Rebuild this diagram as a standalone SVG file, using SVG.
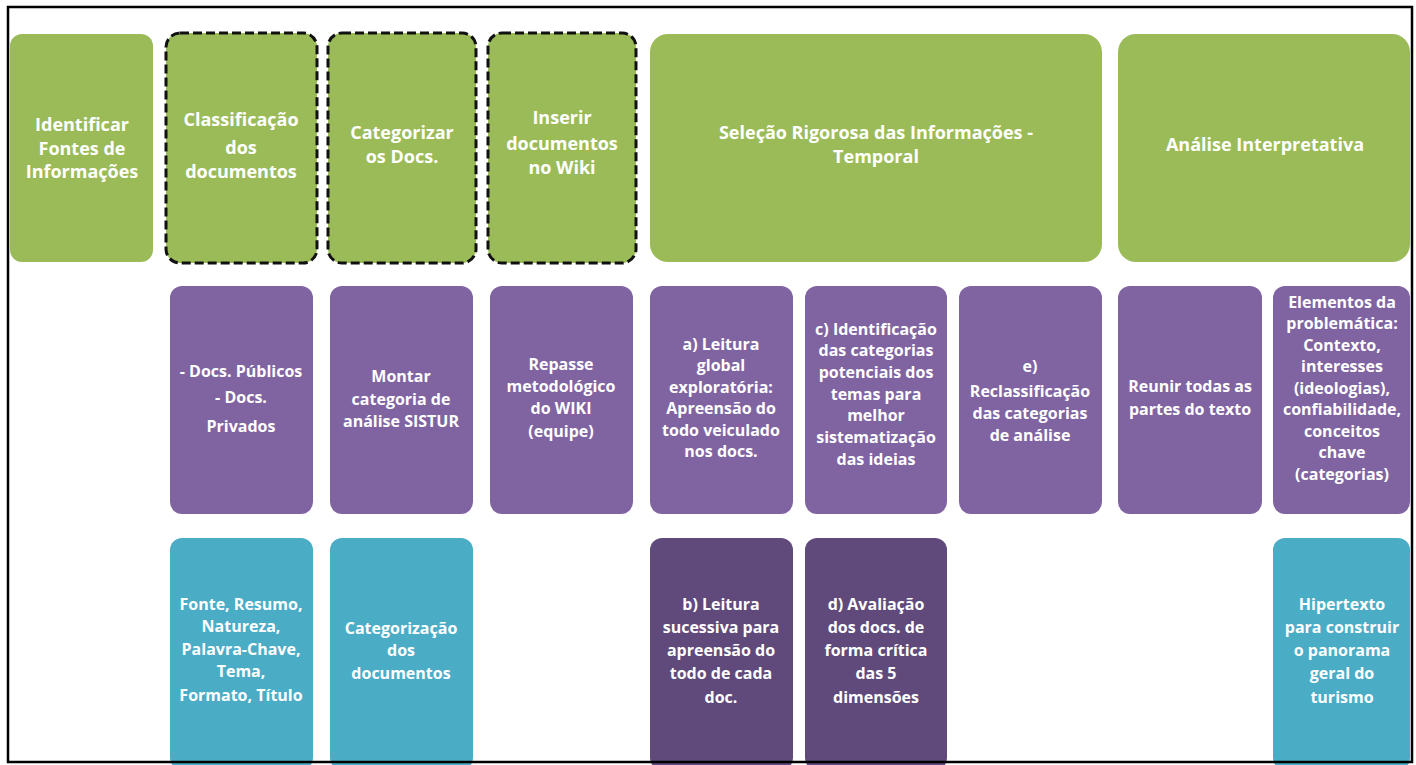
<svg xmlns="http://www.w3.org/2000/svg" width="1416" height="765" viewBox="0 0 1416 765">
<style>
.g{fill:#9bbb59}
.p{fill:#8064a2}
.dp{fill:#5f4a7b}
.t{fill:#4bacc6}
.dash{fill:none;stroke:#111;stroke-width:3;stroke-dasharray:9 4}
text{font-family:"Open Sans",Lato,"Liberation Sans",sans-serif;font-weight:bold;fill:#fff;text-anchor:middle}
.h{font-size:18px}
.s{font-size:16px}
</style>
<rect width="1416" height="765" fill="#fff"/>
<g id="n-identificar"><rect class="g" x="10" y="34" width="143" height="228" rx="12"/>
<text class="h"><tspan x="82" y="131">Identificar</tspan><tspan x="82" y="155">Fontes de</tspan><tspan x="82" y="178">Informações</tspan></text></g>
<g id="n-classificacao"><rect class="g" x="166" y="33" width="151" height="230" rx="14"/><rect class="dash" x="166" y="33" width="151" height="230" rx="14"/>
<text class="h"><tspan x="241" y="126">Classificação</tspan><tspan x="241" y="154">dos</tspan><tspan x="241" y="178">documentos</tspan></text></g>
<g id="n-categorizar"><rect class="g" x="328" y="33" width="148" height="230" rx="14"/><rect class="dash" x="328" y="33" width="148" height="230" rx="14"/>
<text class="h"><tspan x="402" y="139">Categorizar</tspan><tspan x="402" y="163">os Docs.</tspan></text></g>
<g id="n-inserir"><rect class="g" x="488" y="33" width="148" height="230" rx="14"/><rect class="dash" x="488" y="33" width="148" height="230" rx="14"/>
<text class="h"><tspan x="562" y="124">Inserir</tspan><tspan x="562" y="150">documentos</tspan><tspan x="562" y="174">no Wiki</tspan></text></g>
<g id="n-selecao"><rect class="g" x="650" y="34" width="452" height="228" rx="18"/>
<text class="h"><tspan x="876" y="139">Seleção Rigorosa das Informações -</tspan><tspan x="876" y="163">Temporal</tspan></text></g>
<g id="n-analise"><rect class="g" x="1118" y="34" width="292" height="228" rx="18"/>
<text class="h"><tspan x="1265" y="151">Análise Interpretativa</tspan></text></g>

<g id="n-docs"><rect class="p" x="170" y="286" width="143" height="228" rx="12"/>
<text class="s"><tspan x="241" y="377">- Docs. Públicos</tspan><tspan x="241" y="403">- Docs.</tspan><tspan x="241" y="432">Privados</tspan></text></g>
<g id="n-montar"><rect class="p" x="330" y="286" width="143" height="228" rx="12"/>
<text class="s"><tspan x="401" y="382">Montar</tspan><tspan x="401" y="405">categoria de</tspan><tspan x="401" y="427">análise SISTUR</tspan></text></g>
<g id="n-repasse"><rect class="p" x="490" y="286" width="143" height="228" rx="12"/>
<text class="s"><tspan x="561" y="370">Repasse</tspan><tspan x="561" y="392">metodológico</tspan><tspan x="561" y="414">do WIKI</tspan><tspan x="561" y="437">(equipe)</tspan></text></g>
<g id="n-a"><rect class="p" x="650" y="286" width="143" height="228" rx="12"/>
<text class="s"><tspan x="721" y="350">a) Leitura</tspan><tspan x="721" y="371">global</tspan><tspan x="721" y="393">exploratória:</tspan><tspan x="721" y="414">Apreensão do</tspan><tspan x="721" y="436">todo veiculado</tspan><tspan x="721" y="457">nos docs.</tspan></text></g>
<g id="n-c"><rect class="p" x="805" y="286" width="142" height="228" rx="12"/>
<text class="s"><tspan x="876" y="335">c) Identificação</tspan><tspan x="876" y="356">das categorias</tspan><tspan x="876" y="378">potenciais dos</tspan><tspan x="876" y="400">temas para</tspan><tspan x="876" y="421">melhor</tspan><tspan x="876" y="443">sistematização</tspan><tspan x="876" y="465">das ideias</tspan></text></g>
<g id="n-e"><rect class="p" x="959" y="286" width="143" height="228" rx="12"/>
<text class="s"><tspan x="1030" y="372">e)</tspan><tspan x="1030" y="397">Reclassificação</tspan><tspan x="1030" y="419">das categorias</tspan><tspan x="1030" y="441">de análise</tspan></text></g>
<g id="n-reunir"><rect class="p" x="1118" y="286" width="144" height="228" rx="12"/>
<text class="s"><tspan x="1190" y="392">Reunir todas as</tspan><tspan x="1190" y="415">partes do texto</tspan></text></g>
<g id="n-elementos"><rect class="p" x="1273" y="286" width="137" height="228" rx="12"/>
<text class="s"><tspan x="1342" y="308">Elementos da</tspan><tspan x="1342" y="329">problemática:</tspan><tspan x="1342" y="351">Contexto,</tspan><tspan x="1342" y="372">interesses</tspan><tspan x="1342" y="394">(ideologias),</tspan><tspan x="1342" y="415">confiabilidade,</tspan><tspan x="1342" y="437">conceitos</tspan><tspan x="1342" y="458">chave</tspan><tspan x="1342" y="480">(categorias)</tspan></text></g>

<g id="n-fonte"><rect class="t" x="170" y="538" width="143" height="232" rx="12"/>
<text class="s"><tspan x="241" y="610">Fonte, Resumo,</tspan><tspan x="241" y="632">Natureza,</tspan><tspan x="241" y="655">Palavra-Chave,</tspan><tspan x="241" y="677">Tema,</tspan><tspan x="241" y="701">Formato, Título</tspan></text></g>
<g id="n-categorizacao"><rect class="t" x="330" y="538" width="143" height="232" rx="12"/>
<text class="s"><tspan x="401" y="634">Categorização</tspan><tspan x="401" y="656">dos</tspan><tspan x="401" y="679">documentos</tspan></text></g>
<g id="n-b"><rect class="dp" x="650" y="538" width="143" height="232" rx="12"/>
<text class="s"><tspan x="721" y="610">b) Leitura</tspan><tspan x="721" y="633">sucessiva para</tspan><tspan x="721" y="656">apreensão do</tspan><tspan x="721" y="679">todo de cada</tspan><tspan x="721" y="703">doc.</tspan></text></g>
<g id="n-d"><rect class="dp" x="805" y="538" width="142" height="232" rx="12"/>
<text class="s"><tspan x="876" y="610">d) Avaliação</tspan><tspan x="876" y="633">dos docs. de</tspan><tspan x="876" y="656">forma crítica</tspan><tspan x="876" y="679">das 5</tspan><tspan x="876" y="703">dimensões</tspan></text></g>
<g id="n-hipertexto"><rect class="t" x="1273" y="538" width="137" height="232" rx="12"/>
<text class="s"><tspan x="1342" y="610">Hipertexto</tspan><tspan x="1342" y="633">para construir</tspan><tspan x="1342" y="656">o panorama</tspan><tspan x="1342" y="679">geral do</tspan><tspan x="1342" y="703">turismo</tspan></text></g>
<g id="connectors"></g>
<rect x="8" y="7" width="1404" height="755" fill="none" stroke="#000" stroke-width="2.5"/>
</svg>
